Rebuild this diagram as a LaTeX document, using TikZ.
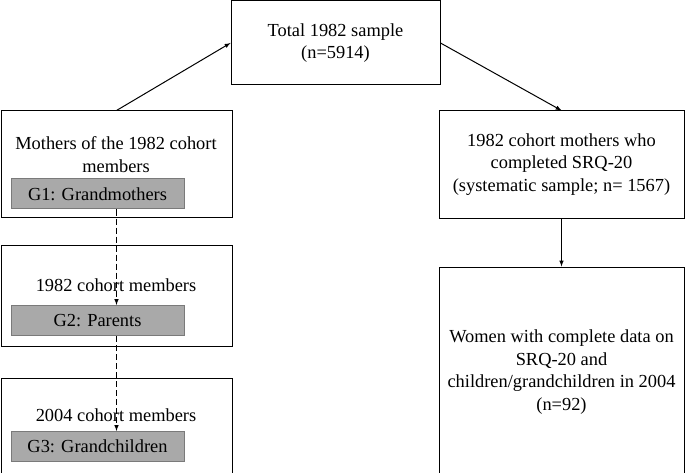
\documentclass[tikz,border=0pt]{standalone}
\usepackage{fontspec}
\setmainfont{Liberation Serif}
\usepackage{tikz}
\usetikzlibrary{arrows,shapes,positioning}
\usepackage{xcolor}
\definecolor{genfill}{RGB}{169,169,169}
\definecolor{gendraw}{RGB}{122,122,122}
\tikzstyle{arrow} = [line width=1pt,->,>=latex,color=black]
\tikzstyle{dasharrow} = [line width=1pt,->,>=latex,color=black,dash pattern=on 6pt off 3pt]
\tikzstyle{samplebox} = [rectangle, draw=black, line width=1pt, align=center, inner sep=0pt]
\tikzstyle{genbox} = [rectangle, draw=gendraw, fill=genfill, line width=1pt, minimum width=173pt, minimum height=30pt, inner sep=0pt]
\tikzstyle{boxtext} = [align=center, inner sep=0pt]

\begin{document}
\begin{tikzpicture}[x=1pt, y=-1pt, font=\fontsize{18.4}{22.5}\selectfont]
\useasboundingbox (0,0) rectangle (685,473);

% Top box
\node (total) [samplebox, minimum width=209pt, minimum height=84pt] at (335.5,43) {Total 1982 sample\\(n=5914)};

% Left column: three generations
\node (mothers) [samplebox, minimum width=231pt, minimum height=106pt] at (116.5,164) {};
\node (motherstxt) [boxtext] at (116,154.5) {Mothers of the 1982 cohort\\members};
\node (g1) [genbox] at (97.5,194) {G1: Grandmothers};

\node (cohort) [samplebox, minimum width=231pt, minimum height=101pt] at (116.5,295.5) {};
\node (cohorttxt) [boxtext] at (116,285) {1982 cohort members};
\node (g2) [genbox] at (97.5,320.5) {G2: Parents};

\node (children) [samplebox, minimum width=231pt, minimum height=99pt] at (116.5,427.5) {};
\node (childrentxt) [boxtext] at (116,415) {2004 cohort members};
\node (g3) [genbox] at (97.5,446.5) {G3: Grandchildren};

% Right column
\node (srq) [samplebox, minimum width=245pt, minimum height=107pt] at (561.5,164.5) {1982 cohort mothers who\\completed SRQ-20\\(systematic sample; n= 1567)};
\node (women) [samplebox, minimum width=245pt, minimum height=210pt] at (561.5,372) {Women with complete data on\\SRQ-20 and\\children/grandchildren in 2004\\(n=92)};

% Connections
\draw[arrow] (mothers.north) -- (total.west);
\draw[arrow] (total.east) -- (srq.north);
\draw[arrow] (srq.south) -- (women.north);
\draw[dasharrow] (mothers.center |- g1.south) -- (mothers.center |- g2.north);
\draw[dasharrow] (mothers.center |- g2.south) -- (mothers.center |- g3.north);
\end{tikzpicture}
\end{document}
